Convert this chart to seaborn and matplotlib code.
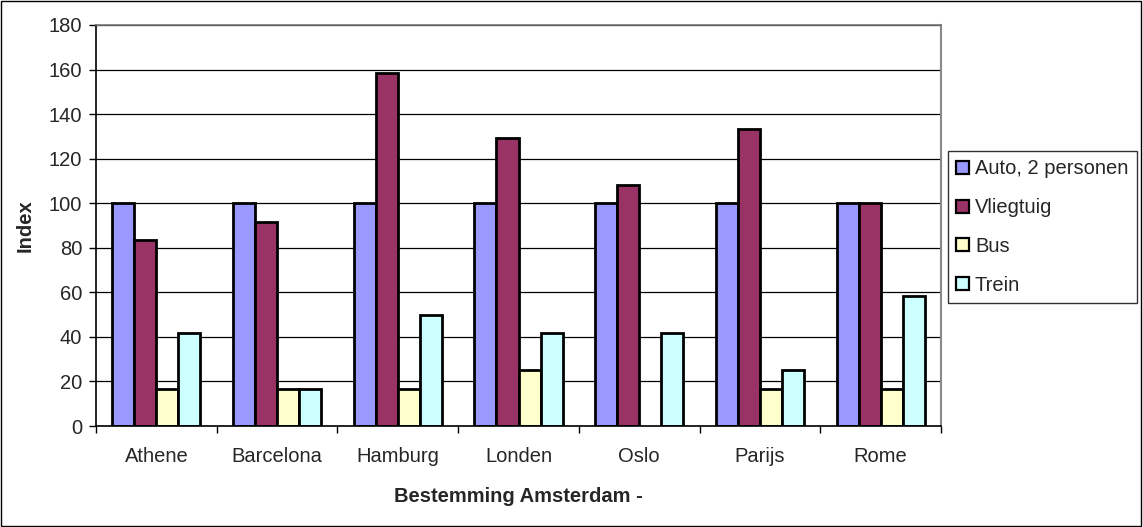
import matplotlib
matplotlib.use("Agg")
import matplotlib.pyplot as plt
import seaborn as sns
import pandas as pd
from matplotlib.patches import Rectangle

categories = ["Athene", "Barcelona", "Hamburg", "Londen", "Oslo", "Parijs", "Rome"]
series_names = ["Auto, 2 personen", "Vliegtuig", "Bus", "Trein"]
auto = [100, 100, 100, 100, 100, 100, 100]
vliegtuig = [83.3, 91.7, 158.3, 129.2, 108.3, 133.3, 100]
bus = [16.7, 16.7, 16.7, 25.0, 0, 16.7, 16.7]
trein = [41.7, 16.7, 50.0, 41.7, 41.7, 25.0, 58.3]
colors = ["#9999FF", "#993366", "#FFFFCC", "#CCFFFF"]

rows = []
for name, vals in zip(series_names, [auto, vliegtuig, bus, trein]):
    for c, v in zip(categories, vals):
        rows.append({"Bestemming": c, "Serie": name, "Index": v})
df = pd.DataFrame(rows)

sns.set_theme(style="white")
plt.rcParams["font.family"] = ["Liberation Sans", "DejaVu Sans"]

FS = 14.5
fig = plt.figure(figsize=(11.43, 5.27), dpi=100)
ax = fig.add_axes([96/1143, 1-426/527, (941-96)/1143, (426-25)/527])

sns.barplot(data=df, x="Bestemming", y="Index", hue="Serie", order=categories,
            hue_order=series_names, palette=colors, width=0.73,
            edgecolor="black", linewidth=2.0, saturation=1, ax=ax, legend=True)

for p in ax.patches:
    if p.get_height() == 0:
        p.set_linewidth(0)

ax.set_ylim(0, 180)
ax.set_xlim(-0.5, 6.5)
ax.set_yticks(range(0, 181, 20))
ax.yaxis.grid(True, color="black", linewidth=0.9)
ax.set_axisbelow(True)
ax.set_xticks([i - 0.5 for i in range(8)], minor=False)
ax.set_xticklabels([])
ax.set_xticks(range(7), minor=True)
ax.set_xticklabels(categories, minor=True, fontsize=FS)
ax.tick_params(axis="x", which="minor", length=0, pad=15)
ax.tick_params(axis="x", which="major", length=5, width=1, color="black", direction="out", bottom=True)
ax.tick_params(axis="y", length=5, width=1, color="black", direction="out", left=True, labelsize=FS, pad=5)

for s in ["left", "bottom"]:
    ax.spines[s].set_color("black")
    ax.spines[s].set_linewidth(1.2)
ax.spines["right"].set_color("#888888")
ax.spines["right"].set_linewidth(1.5)
ax.spines["top"].set_color("#777777")
ax.spines["top"].set_linewidth(1.2)

ax.set_ylabel("Index", fontsize=FS, fontweight="bold", labelpad=10)
ax.set_xlabel("Bestemming Amsterdam -", fontsize=FS, fontweight="bold", labelpad=15)

handles, labels = ax.get_legend_handles_labels()
ax.get_legend().remove()
for h in handles:
    h.set_edgecolor("black")
    h.set_linewidth(1.6)
leg = fig.legend(handles, labels, loc="center left",
                 bbox_to_anchor=(948/1143, 1-227/527), frameon=True, fancybox=False,
                 edgecolor="black", fontsize=FS, handlelength=0.62, handleheight=0.62,
                 handletextpad=0.3, labelspacing=0.98, borderpad=0.42, borderaxespad=0)
leg.get_frame().set_linewidth(1)

fig.patches.append(Rectangle((0.001, 0.002), 0.997, 0.996, transform=fig.transFigure,
                             fill=False, edgecolor="black", linewidth=1))

fig.savefig("out.png", dpi=100)
